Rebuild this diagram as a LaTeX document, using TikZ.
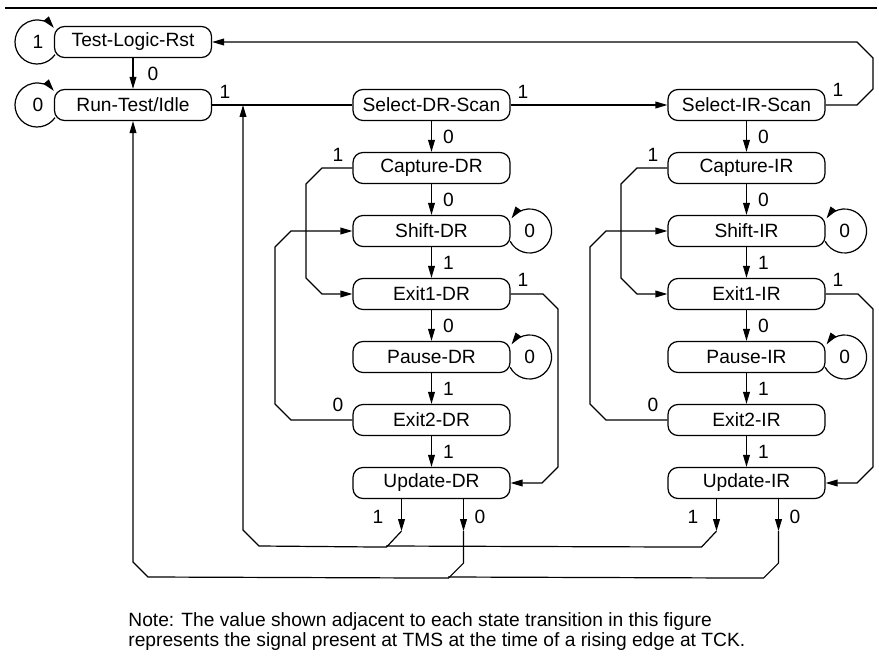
\documentclass[tikz,border=0pt]{standalone}
\usepackage{fontspec}
\setmainfont{Liberation Sans}
\usetikzlibrary{arrows.meta}
\begin{document}
\begin{tikzpicture}[x=0.5pt,y=-0.5pt,
  st/.style={draw, line width=0.6pt, rounded corners=5pt, minimum width=78.5pt, minimum height=15.5pt, inner sep=0pt, font=\fontsize{9.6}{11}\selectfont},
  ln/.style={line width=0.6pt},
  arr/.style={ln, -{Triangle[length=6pt,width=3.4pt]}},
  lbl/.style={font=\fontsize{9.6}{11}\selectfont, inner sep=0pt},
  note/.style={font=\fontsize{9.6}{11}\selectfont, inner sep=0pt, anchor=base west}]
\useasboundingbox (0,0) rectangle (879,663);
\draw[line width=0.7pt] (5,8) -- (877,8);
% states
\node[st] (tlr) at (133,42) {Test-Logic-Rst};
\node[st] (rti) at (133,105) {Run-Test/Idle};
\node[st] (sdr) at (431.5,105) {Select-DR-Scan};
\node[st] (cdr) at (431.5,168) {Capture-DR};
\node[st] (shdr) at (431.5,231) {Shift-DR};
\node[st] (e1dr) at (431.5,294) {Exit1-DR};
\node[st] (pdr) at (431.5,357) {Pause-DR};
\node[st] (e2dr) at (431.5,420) {Exit2-DR};
\node[st] (udr) at (431.5,483) {Update-DR};
\node[st] (sir) at (746.5,105) {Select-IR-Scan};
\node[st] (cir) at (746.5,168) {Capture-IR};
\node[st] (shir) at (746.5,231) {Shift-IR};
\node[st] (e1ir) at (746.5,294) {Exit1-IR};
\node[st] (pir) at (746.5,357) {Pause-IR};
\node[st] (e2ir) at (746.5,420) {Exit2-IR};
\node[st] (uir) at (746.5,483) {Update-IR};
% self loops (left)
\draw[arr] ([xshift=-48pt]tlr.center) ++(-35:11pt) arc[start angle=-35, end angle=-320, radius=11pt];
\node[lbl] at (38,42) {1};
\draw[arr] ([xshift=-48pt]rti.center) ++(-35:11pt) arc[start angle=-35, end angle=-320, radius=11pt];
\node[lbl] at (38,105) {0};
% self loops (right)
\foreach \n in {shdr,pdr,shir,pir}{
  \draw[arr] ([xshift=9.5pt]\n.east) ++(-152:11pt) arc[start angle=-152, end angle=145, radius=11pt];
  \node[lbl] at ([xshift=9.5pt]\n.east) {0};
}
% straight transitions
\draw[arr] (tlr) -- (rti) node[lbl, midway, xshift=10pt] {0};
\draw[arr] (sdr) -- (cdr) node[lbl, midway, xshift=8.5pt] {0};
\draw[arr] (cdr) -- (shdr) node[lbl, midway, xshift=8.5pt] {0};
\draw[arr] (shdr) -- (e1dr) node[lbl, midway, xshift=8.5pt] {1};
\draw[arr] (e1dr) -- (pdr) node[lbl, midway, xshift=8.5pt] {0};
\draw[arr] (pdr) -- (e2dr) node[lbl, midway, xshift=8.5pt] {1};
\draw[arr] (e2dr) -- (udr) node[lbl, midway, xshift=8.5pt] {1};
\draw[arr] (sir) -- (cir) node[lbl, midway, xshift=8.5pt] {0};
\draw[arr] (cir) -- (shir) node[lbl, midway, xshift=8.5pt] {0};
\draw[arr] (shir) -- (e1ir) node[lbl, midway, xshift=8.5pt] {1};
\draw[arr] (e1ir) -- (pir) node[lbl, midway, xshift=8.5pt] {0};
\draw[arr] (pir) -- (e2ir) node[lbl, midway, xshift=8.5pt] {1};
\draw[arr] (e2ir) -- (uir) node[lbl, midway, xshift=8.5pt] {1};
% top row
\draw[ln] (rti.east) -- (sdr.west);
\node[lbl] at (225,92) {1};
\draw[arr] (sdr.east) -- (sir.west);
\node[lbl] at (523,92) {1};
\draw[arr] (sir.east) -- (857,105) -- (873,89) -- (873,58) -- (857,42) -- (tlr.east);
\node[lbl] at (838,90) {1};
% DR column side paths
\draw[arr] (cdr.west) -- (322,168) -- (306,184) -- (306,278) -- (322,294) -- (e1dr.west);
\node[lbl] at (338,155) {1};
\draw[arr] (e2dr.west) -- (291,420) -- (275,404) -- (275,247) -- (291,231) -- (shdr.west);
\node[lbl] at (338,405) {0};
\draw[arr] (e1dr.east) -- (543,294) -- (558,309) -- (558,467) -- (542,483) -- (udr.east);
\node[lbl] at (523,280) {1};
% IR column side paths
\draw[arr] (cir.west) -- (637,168) -- (621,184) -- (621,278) -- (637,294) -- (e1ir.west);
\node[lbl] at (653,155) {1};
\draw[arr] (e2ir.west) -- (606,420) -- (590,404) -- (590,247) -- (606,231) -- (shir.west);
\node[lbl] at (653,405) {0};
\draw[arr] (e1ir.east) -- (858,294) -- (873,309) -- (873,467) -- (857,483) -- (uir.east);
\node[lbl] at (838,280) {1};
% Update exits
\draw[arr] ([xshift=-15pt]udr.south) -- ++(0,32);
\node[lbl] at (378,517) {1};
\draw[arr] ([xshift=-15pt]udr.south) ++(0,32) -- ++(-15,16) -- (259,546) -- (243,530) -- (243,0 |- rti.east);
\draw[arr] ([xshift=16pt]udr.south) -- ++(0,32);
\node[lbl] at (480,517) {0};
\draw[arr] ([xshift=16pt]udr.south) ++(0,32) -- ++(0,32) -- ++(-15,15) -- (148,577) -- (133,562) -- (rti.south);
\draw[arr] ([xshift=-15pt]uir.south) -- ++(0,32);
\node[lbl] at (693,517) {1};
\draw[ln] ([xshift=-15pt]uir.south) ++(0,32) -- ++(-15,16) -- (386,546);
\draw[arr] ([xshift=16pt]uir.south) -- ++(0,32);
\node[lbl] at (795,517) {0};
\draw[ln] ([xshift=16pt]uir.south) ++(0,32) -- ++(0,32) -- ++(-15,15) -- (448,577);
% note
\node[note] (n1) at (128,626) {Note: The value shown adjacent to each state transition in this figure};
\node[note] (n2) at (128,646) {represents the signal present at TMS at the time of a rising edge at TCK.};
\end{tikzpicture}
\end{document}
